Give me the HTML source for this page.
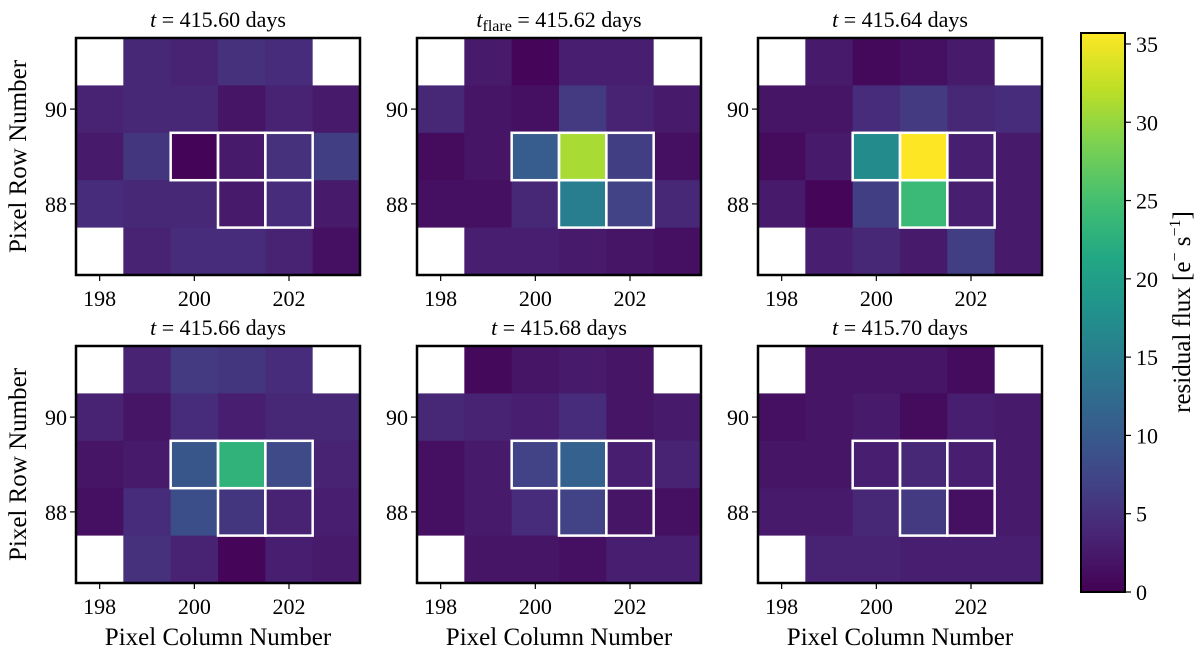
<!DOCTYPE html>
<html><head><meta charset="utf-8">
<style>
html,body{margin:0;padding:0;background:#fff;}
svg, svg text, svg tspan{font-family:"Liberation Serif","Times New Roman","Noto Serif CJK SC","DejaVu Serif",serif !important;}
</style></head>
<body>
<svg id="fig" width="1200" height="654" viewBox="0 0 1200 654" xmlns="http://www.w3.org/2000/svg"></svg>
<script>
const columns = [198,199,200,201,202,203];
const rows = [91,90,89,88,87];
const xTicks = [198,200,202];
const yTicks = [90,88];
const cbTicks = [0,5,10,15,20,25,30,35];
const panelTitles = ["415.60","415.62","415.64","415.66","415.68","415.70"];
const N = null;
const flux1 = [[N,4,3.5,5,4.5,N],[3.5,4,4,2,3.5,2.5],[2.5,5.5,0.3,2.5,5,6.5],[4.5,4,4,2.5,4.5,2.5],[N,3.5,4.5,4.5,3.5,1.5]];
const flux2 = [[N,2.5,0.5,3,3,N],[4,2,1.5,6,3.5,2.5],[1,2,10.5,31,6.5,1.5],[1.5,1.5,4,15,7,4],[N,3,3,2.5,2,1.5]];
const flux3 = [[N,2.5,0.8,1.5,2.5,N],[2,2,4.5,6,4,4.5],[1,2.5,17,35.7,3,2.5],[2.5,0.5,6.5,24,3,2.5],[N,3,4,2.5,6.5,2.5]];
const flux4 = [[N,3.5,6,5.5,4.5,N],[3.5,2,4.5,3,4,4],[2,2.5,9.5,23,8,3.5],[1.5,4.5,8.5,5.5,3.5,3],[N,5,3.5,0.5,3,2.5]];
const flux5 = [[N,0.8,2,2.5,2,N],[4,3.5,3,4.5,2,2.5],[1.5,2.5,7,11,3,3.5],[1.5,2.5,4.5,7,2,1.5],[N,2,2,1.5,3,3]];
const flux6 = [[N,2,2,2,1,N],[1.5,2,2.5,1,3,2.5],[2,2,3,4,3,2.5],[2.5,2.5,4,6,1.5,2.5],[N,3.5,3.5,3,3,3]];
const aperture = [[200,89],[201,89],[202,89],[201,88],[202,88]];
const vmin = 0, vmax = 35.7;

const allFlux=[flux1,flux2,flux3,flux4,flux5,flux6];
const NS="http://www.w3.org/2000/svg";
const svg=document.getElementById('fig');
function mk(t,a,txt){const e=document.createElementNS(NS,t);for(const k in a)e.setAttribute(k,a[k]);if(txt!==undefined)e.textContent=txt;return e;}
const vir=[[0,68,1,84],[0.1,72,36,117],[0.2,65,68,135],[0.3,53,95,141],[0.4,42,120,142],[0.5,33,145,140],[0.6,34,168,132],[0.7,68,191,112],[0.8,122,209,81],[0.9,189,223,38],[1,253,231,37]];
function viridis(t){t=Math.max(0,Math.min(1,t));for(let i=1;i<vir.length;i++){if(t<=vir[i][0]){const a=vir[i-1],b=vir[i],f=(t-a[0])/(b[0]-a[0]);return `rgb(${Math.round(a[1]+f*(b[1]-a[1]))},${Math.round(a[2]+f*(b[2]-a[2]))},${Math.round(a[3]+f*(b[3]-a[3]))})`;}}return 'rgb(253,231,37)';}
const PW=284,PH=237,px0=[76,417,758],py0=[38,346];
for(let p=0;p<6;p++){
  const ox=px0[p%3],oy=py0[Math.floor(p/3)];
  const cw=PW/columns.length,ch=PH/rows.length;
  const xS=c=>ox+(c-columns[0]+0.5)*cw;
  const yS=r=>oy+(rows[0]-r+0.5)*ch;
  const g=mk('g',{});
  
  
  svg.appendChild(g);
  const data=allFlux[p];
  rows.forEach((r,i)=>columns.forEach((c,j)=>{
    const v=data[i][j];
    const rc=mk('rect',{x:(xS(c)-cw/2).toFixed(2),y:(yS(r)-ch/2).toFixed(2),width:(cw+0.6).toFixed(2),height:(ch+0.6).toFixed(2),fill:v===null?'#fff':viridis((v-vmin)/(vmax-vmin))});
    
    
    g.appendChild(rc);
  }));
  aperture.forEach(a=>{
    const rc=mk('rect',{x:xS(a[0])-cw/2,y:yS(a[1])-ch/2,width:cw,height:ch,fill:'none',stroke:'#fff','stroke-width':2.5});
    
    
    g.appendChild(rc);
  });
  g.appendChild(mk('rect',{x:ox,y:oy,width:PW,height:PH,fill:'none',stroke:'#000','stroke-width':2.5}));
  xTicks.forEach(t=>{
    g.appendChild(mk('line',{x1:xS(t),x2:xS(t),y1:oy+PH,y2:oy+PH+6,stroke:'#000','stroke-width':1.2}));
    const tl=mk('text',{x:xS(t),y:oy+PH+31,'text-anchor':'middle','font-size':22},String(t));
    
    
    g.appendChild(tl);
  });
  yTicks.forEach(t=>{
    g.appendChild(mk('line',{x1:ox-6,x2:ox,y1:yS(t),y2:yS(t),stroke:'#000','stroke-width':1.2}));
    const tl=mk('text',{x:ox-9,y:yS(t)+8,'text-anchor':'end','font-size':22},String(t));
    
    
    g.appendChild(tl);
  });
  const tt=mk('text',{x:ox+PW/2,y:oy-11,'text-anchor':'middle','font-size':22});
  
  
  tt.appendChild(mk('tspan',{'font-style':'italic'},'t'));
  if(p===1){tt.appendChild(mk('tspan',{'font-size':16,dy:4},'flare'));tt.appendChild(mk('tspan',{dy:-4},' = '+panelTitles[p]+' days'));}
  else tt.appendChild(mk('tspan',{},' = '+panelTitles[p]+' days'));
  g.appendChild(tt);
  if(p%3===0){
    const yl=mk('text',{transform:`translate(26,${oy+PH/2}) rotate(-90)`,'text-anchor':'middle','font-size':25},'Pixel Row Number');
    
    
    svg.appendChild(yl);
  }
  if(p>=3){
    const xl=mk('text',{x:ox+PW/2,y:645,'text-anchor':'middle','font-size':25},'Pixel Column Number');
    
    
    svg.appendChild(xl);
  }
}
const cbx=1081,cbw=44,cbt=33,cbb=592;
const cb=mk('g',{});


svg.appendChild(cb);
const defs=mk('defs',{});
const lg=mk('linearGradient',{id:'vg',x1:0,y1:1,x2:0,y2:0});
vir.forEach(s=>lg.appendChild(mk('stop',{offset:s[0],'stop-color':`rgb(${s[1]},${s[2]},${s[3]})`})));
defs.appendChild(lg);svg.appendChild(defs);
cb.appendChild(mk('rect',{x:cbx,y:cbt,width:cbw,height:cbb-cbt,fill:'url(#vg)',stroke:'#000','stroke-width':2}));
const cyS=v=>cbb-(v-vmin)/(vmax-vmin)*(cbb-cbt);
cbTicks.forEach(t=>{
  cb.appendChild(mk('line',{x1:cbx+cbw,x2:cbx+cbw+6,y1:cyS(t),y2:cyS(t),stroke:'#000','stroke-width':1.2}));
  const tl=mk('text',{x:cbx+cbw+11,y:cyS(t)+8,'font-size':22},String(t));
  
  
  cb.appendChild(tl);
});
const cl=mk('text',{transform:'translate(1190,312) rotate(-90)','text-anchor':'middle','font-size':25});


cl.appendChild(mk('tspan',{},'residual flux [e'));
cl.appendChild(mk('tspan',{'font-size':16,dy:-10},'−'));
cl.appendChild(mk('tspan',{dy:10},' s'));
cl.appendChild(mk('tspan',{'font-size':16,dy:-10},'−1'));
cl.appendChild(mk('tspan',{dy:10},']'));
cb.appendChild(cl);
</script>
</body></html>
